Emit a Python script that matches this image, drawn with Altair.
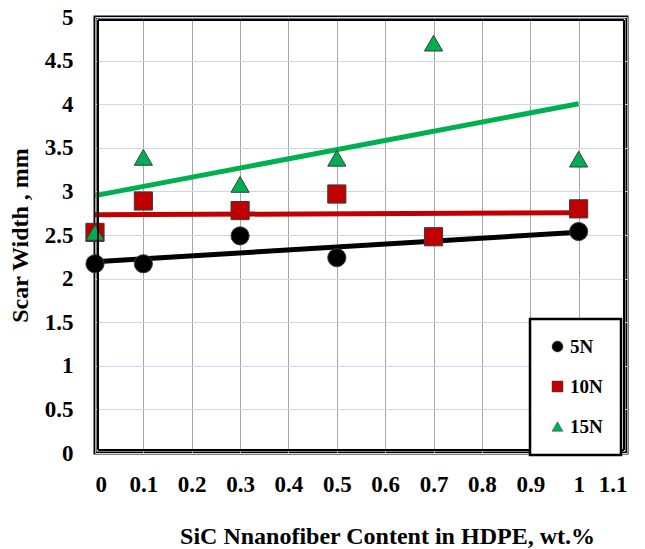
import altair as alt
import pandas as pd

x_5n = [0, 0.1, 0.3, 0.5, 1.0]
y_5n = [2.17, 2.17, 2.49, 2.24, 2.54]
x_10n = [0, 0.1, 0.3, 0.5, 0.7, 1.0]
y_10n = [2.53, 2.89, 2.78, 2.97, 2.48, 2.80]
x_15n = [0, 0.1, 0.3, 0.5, 0.7, 1.0]
y_15n = [2.53, 3.39, 3.08, 3.38, 4.70, 3.37]

series = ["5N", "10N", "15N"]
colors = ["#000000", "#c00000", "#00b050"]
shapes = ["circle", "square", "triangle-up"]

rows = []
for name, xs, ys in [("5N", x_5n, y_5n), ("10N", x_10n, y_10n), ("15N", x_15n, y_15n)]:
    for a, b in zip(xs, ys):
        rows.append({"content": a, "width": b, "load": name})
df = pd.DataFrame(rows)

FONT = "Times New Roman, Liberation Serif, serif"
W, H = 532, 436

xenc = alt.X("content:Q", scale=alt.Scale(domain=[0, 1.1], nice=False),
             axis=alt.Axis(values=[round(i * 0.1, 1) for i in range(12)], format="~g",
                           title="SiC Nnanofiber Content in HDPE, wt.%",
                           titleX=292, titlePadding=28))
yenc = alt.Y("width:Q", scale=alt.Scale(domain=[0, 5], nice=False),
             axis=alt.Axis(values=[i * 0.5 for i in range(11)], format="~g",
                           title="Scar Width , mm", titlePadding=12,
                           gridColor="#c6d9f1"))

line_layers = []
for name, col in zip(series, colors):
    line_layers.append(
        alt.Chart(df).transform_filter(alt.datum.load == name)
        .transform_regression("content", "width")
        .mark_line(strokeWidth=5, color=col)
        .encode(x=xenc, y=yenc)
    )

points = alt.Chart(df).mark_point(filled=True, opacity=1, size=330,
                                  stroke="#3a3a3a", strokeWidth=1).encode(
    x=xenc, y=yenc,
    color=alt.Color("load:N", scale=alt.Scale(domain=series, range=colors),
                    legend=alt.Legend(title=None, orient="none", legendX=435, legendY=302)),
    shape=alt.Shape("load:N", scale=alt.Scale(domain=series, range=shapes),
                    legend=alt.Legend(title=None, orient="none", legendX=435, legendY=302)),
)

frame = alt.Chart(df).mark_rect(
    fillOpacity=0, stroke="#000000", strokeWidth=1
).encode(x=alt.value(3), x2=alt.value(W - 3), y=alt.value(3), y2=alt.value(H - 3))

chart = alt.layer(*line_layers, points, frame).properties(
    width=W, height=H,
    autosize=alt.AutoSizeParams(type="none"),
    padding={"left": 95, "top": 17, "right": 18, "bottom": 96},
).configure_view(
    stroke="#000000", strokeWidth=3
).configure_axis(
    labelFont=FONT, labelFontSize=23, labelFontWeight="bold", labelColor="#000000",
    titleFont=FONT, titleFontSize=24, titleFontWeight="bold", titleColor="#000000",
    domain=False, ticks=False, labelPadding=20,
).configure_axisY(
    labelPadding=22,
).configure_axisX(
    gridColor="#a6a6a6", gridWidth=1,
).configure_legend(
    strokeColor="#000000", strokeWidth=2.5, fillColor="#ffffff",
    padding=18, rowPadding=20, symbolSize=120, symbolStrokeWidth=0.5,
    labelFont=FONT, labelFontSize=19, labelFontWeight="bold", labelColor="#000000",
    symbolOffset=0, labelOffset=3, cornerRadius=0,
)

chart.save("out.html", embed_options={"renderer": "svg", "actions": False})
